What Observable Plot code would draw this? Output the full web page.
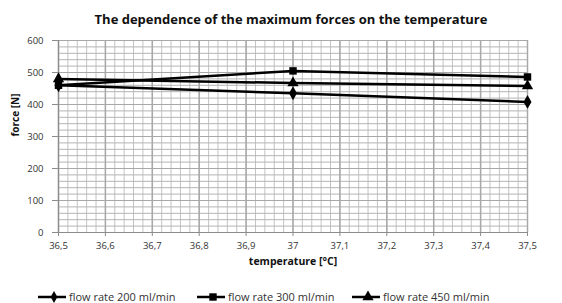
<!DOCTYPE html>
<html>
<head>
<meta charset="utf-8">
<script src="https://cdn.jsdelivr.net/npm/d3@7"></script>
<script src="https://cdn.jsdelivr.net/npm/@observablehq/plot@0.6"></script>
<style>
  html, body { margin: 0; padding: 0; background: #fff; width: 562px; height: 303px; overflow: hidden; }
  body { font-family: "Open Sans", "DejaVu Sans", sans-serif; position: relative; }
  #title { position: absolute; left: 0; top: 10px; width: 582px; text-align: center; font-weight: bold; font-size: 13px; color: #111; }
  #chart { position: absolute; left: 0; top: 28px; }
  #legend { position: absolute; left: 0; top: 289px; width: 562px; height: 16px; font-size: 11px; color: #333; }
  .item { position: absolute; top: 0; display: flex; align-items: center; }
  .item svg { display: block; }
  .item span { margin-left: 3px; white-space: nowrap; }
</style>
</head>
<body>
<div id="title">The dependence of the maximum forces on the temperature</div>
<div id="chart"></div>
<div id="legend"></div>
<script>
const seriesNames = ["flow rate 200 ml/min", "flow rate 300 ml/min", "flow rate 450 ml/min"];
const temps = [36.5, 37, 37.5];
const flow200 = [460, 435, 408];
const flow300 = [460, 505, 486];
const flow450 = [480, 467, 458];
const xTicks = [36.5, 36.6, 36.7, 36.8, 36.9, 37, 37.1, 37.2, 37.3, 37.4, 37.5];
const yTicks = [0, 100, 200, 300, 400, 500, 600];
const symbols = ["diamond", "square", "triangle"];

const data = [];
[flow200, flow300, flow450].forEach((vals, i) => {
  vals.forEach((v, j) => data.push({series: seriesNames[i], temp: temps[j], force: v}));
});

const minorX = d3.range(0, 51).map(i => +(36.5 + i * 0.02).toFixed(2));
const minorY = d3.range(0, 31).map(i => i * 20);
const fmt = d => String(d).replace(".", ",");

const chart = Plot.plot({
  width: 562,
  height: 250,
  marginLeft: 58,
  marginRight: 35,
  marginTop: 12,
  marginBottom: 46,
  style: {fontFamily: "'Open Sans', 'DejaVu Sans', sans-serif", fontSize: "9.5px", color: "#333", background: "white"},
  x: {domain: [36.5, 37.5], label: null},
  y: {domain: [0, 600], label: null},
  symbol: {domain: seriesNames, range: symbols},
  marks: [
    Plot.gridX(minorX, {stroke: "#c4c4c4", strokeOpacity: 1, strokeWidth: 1}),
    Plot.gridY(minorY, {stroke: "#b4b4b4", strokeOpacity: 1, strokeWidth: 1}),
    Plot.gridX(xTicks, {stroke: "#a8a8a8", strokeOpacity: 1, strokeWidth: 1.5}),
    Plot.gridY(yTicks, {stroke: "#a8a8a8", strokeOpacity: 1, strokeWidth: 1}),
    Plot.ruleY([0], {stroke: "#8c8c8c", strokeWidth: 1.2}),
    Plot.ruleX([36.5], {stroke: "#8c8c8c", strokeWidth: 1.2}),
    Plot.axisX({ticks: xTicks, tickFormat: fmt, tickSize: 4, tickPadding: 6, label: null, stroke: "#8c8c8c", fill: "#333"}),
    Plot.axisY({ticks: yTicks, tickSize: 6, tickPadding: 9, label: null, stroke: "#8c8c8c", fill: "#333"}),
    Plot.line(data, {x: "temp", y: "force", z: "series", stroke: "#000", strokeWidth: 2.5}),
    Plot.dot(data, {x: "temp", y: "force", symbol: "series", fill: "#000", stroke: "none", r: 4.2}),
    Plot.text(["temperature [°C]"], {frameAnchor: "bottom", dy: 32, fontWeight: "bold", fontSize: 10.5, fill: "#111"}),
    Plot.text(["force [N]"], {frameAnchor: "left", dx: -43, rotate: -90, fontWeight: "bold", fontSize: 10, fill: "#111"})
  ]
});
document.getElementById("chart").appendChild(chart);

// Legend
const legend = document.getElementById("legend");
const legendX = [38, 197, 352];
seriesNames.forEach((name, i) => {
  const item = document.createElement("div");
  item.className = "item";
  item.style.left = legendX[i] + "px";
  const sym = d3.symbol().type([d3.symbolDiamond, d3.symbolSquare, d3.symbolTriangle][i]).size(i === 0 ? 40 : 55)();
  item.innerHTML = `<svg width="28" height="14"><line x1="0" x2="28" y1="7" y2="7" stroke="#000" stroke-width="2.5"/><path d="${sym}" transform="translate(16,7)" fill="#000"/></svg><span>${name}</span>`;
  legend.appendChild(item);
});
</script>
</body>
</html>
